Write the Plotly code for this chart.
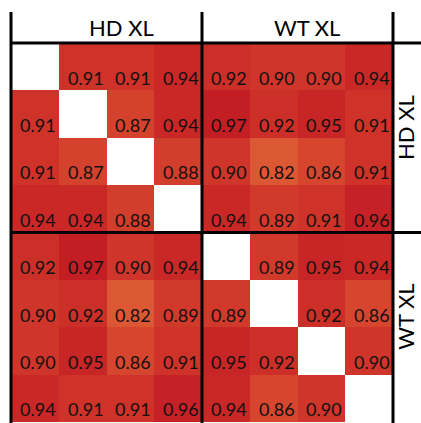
import plotly.graph_objects as go

# Pairwise similarity between the eight cross-linked samples (4 HD XL, 4 WT XL)
samples = ["HD1", "HD2", "HD3", "HD4", "WT1", "WT2", "WT3", "WT4"]
row_hd1 = [None, 0.91, 0.91, 0.94, 0.92, 0.90, 0.90, 0.94]
row_hd2 = [0.91, None, 0.87, 0.94, 0.97, 0.92, 0.95, 0.91]
row_hd3 = [0.91, 0.87, None, 0.88, 0.90, 0.82, 0.86, 0.91]
row_hd4 = [0.94, 0.94, 0.88, None, 0.94, 0.89, 0.91, 0.96]
row_wt1 = [0.92, 0.97, 0.90, 0.94, None, 0.89, 0.95, 0.94]
row_wt2 = [0.90, 0.92, 0.82, 0.89, 0.89, None, 0.92, 0.86]
row_wt3 = [0.90, 0.95, 0.86, 0.91, 0.95, 0.92, None, 0.90]
row_wt4 = [0.94, 0.91, 0.91, 0.96, 0.94, 0.86, 0.90, None]
matrix = [row_hd1, row_hd2, row_hd3, row_hd4, row_wt1, row_wt2, row_wt3, row_wt4]
group_labels = ["HD XL", "WT XL"]

n = len(samples)
idx = list(range(n))

fig = go.Figure(
    go.Heatmap(
        z=matrix,
        x=idx,
        y=idx,
        zmin=0.82,
        zmax=0.97,
        colorscale=[
            [0.0, "rgb(220,88,53)"],
            [0.5, "rgb(208,55,42)"],
            [1.0, "rgb(196,30,37)"],
        ],
        showscale=False,
        hoverinfo="skip",
    )
)

# value labels, sitting in the lower part of each cell
for i, row in enumerate(matrix):
    for j, v in enumerate(row):
        if v is None:
            continue
        fig.add_annotation(
            x=j, y=i, text=f"{v:.2f}", showarrow=False,
            xanchor="center", yanchor="middle",
            xshift=3, yshift=-11,
            font=dict(family="Lato", size=18, color="#111111"),
        )

# group separators and frame
line = dict(color="black", width=3)
for xp in (0, 0.5, 1):
    fig.add_shape(type="line", xref="paper", yref="paper",
                  x0=xp, x1=xp, y0=-0.01, y1=1.082, line=line)
for yp in (1, 0.5):
    fig.add_shape(type="line", xref="paper", yref="paper",
                  x0=0, x1=1.075, y0=yp, y1=yp, line=line)

# group titles: top and right
label_font = dict(family="Lato", size=22, color="black")
for xp, name in zip((0.29, 0.776), group_labels):
    fig.add_annotation(x=xp, y=1.042, xref="paper", yref="paper", text=name,
                       xanchor="center", yanchor="middle",
                       showarrow=False, font=label_font)
for yp, name in zip((0.778, 0.277), group_labels):
    fig.add_annotation(x=1.031, y=yp, xref="paper", yref="paper", text=name,
                       xanchor="center", yanchor="middle",
                       showarrow=False, textangle=-90, font=label_font)

fig.update_xaxes(range=[-0.5, n - 0.5], visible=False)
fig.update_yaxes(range=[n - 0.5, -0.5], visible=False)
fig.update_layout(
    width=421, height=423,
    margin=dict(l=11, r=28, t=43, b=1),
    paper_bgcolor="white", plot_bgcolor="white",
)

fig.write_html("out.html")
